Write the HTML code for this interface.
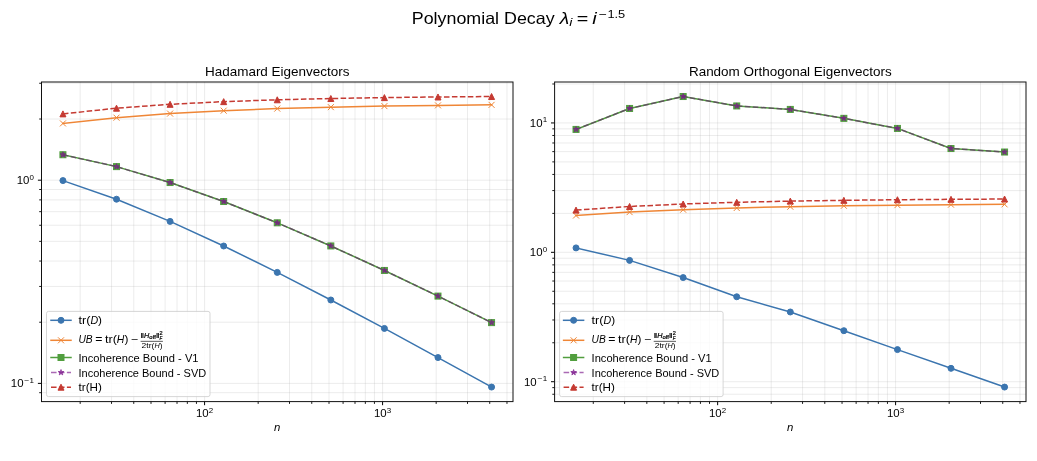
<!DOCTYPE html>
<html lang="en"><head><meta charset="utf-8"><title>Polynomial Decay</title>
<style>html,body{margin:0;padding:0;background:#fff;overflow:hidden}svg{display:block;will-change:transform}text{font-family:"Liberation Sans",sans-serif;white-space:pre}</style></head>
<body>
<svg width="1037" height="461" viewBox="0 0 1037 461" font-family="Liberation Sans, sans-serif">
<rect width="1037" height="461" fill="#fff"/>
<g id="ax0">
<clipPath id="clip0"><rect x="41.50" y="82.00" width="471.50" height="319.60"/></clipPath>
<path d="M204.59 82.00V401.60M382.58 82.00V401.60M80.18 82.00V401.60M111.52 82.00V401.60M133.76 82.00V401.60M151.01 82.00V401.60M165.10 82.00V401.60M177.02 82.00V401.60M187.34 82.00V401.60M196.44 82.00V401.60M258.17 82.00V401.60M289.51 82.00V401.60M311.75 82.00V401.60M329.00 82.00V401.60M343.09 82.00V401.60M355.01 82.00V401.60M365.33 82.00V401.60M374.43 82.00V401.60M436.16 82.00V401.60M467.50 82.00V401.60M489.73 82.00V401.60M506.98 82.00V401.60M41.50 383.38H513.00M41.50 180.20H513.00M41.50 392.68H513.00M41.50 322.22H513.00M41.50 286.44H513.00M41.50 261.05H513.00M41.50 241.36H513.00M41.50 225.27H513.00M41.50 211.67H513.00M41.50 199.89H513.00M41.50 189.50H513.00M41.50 119.03H513.00M41.50 83.26H513.00" fill="none" stroke="#b0b0b0" stroke-opacity="0.3" stroke-width="0.8"/>
<path d="M204.59 401.60v3.6M382.58 401.60v3.6M41.50 383.38h-3.6M41.50 180.20h-3.6" fill="none" stroke="#000" stroke-width="1"/>
<path d="M80.18 401.60v2.3M111.52 401.60v2.3M133.76 401.60v2.3M151.01 401.60v2.3M165.10 401.60v2.3M177.02 401.60v2.3M187.34 401.60v2.3M196.44 401.60v2.3M258.17 401.60v2.3M289.51 401.60v2.3M311.75 401.60v2.3M329.00 401.60v2.3M343.09 401.60v2.3M355.01 401.60v2.3M365.33 401.60v2.3M374.43 401.60v2.3M436.16 401.60v2.3M467.50 401.60v2.3M489.73 401.60v2.3M506.98 401.60v2.3M41.50 392.68h-2.3M41.50 322.22h-2.3M41.50 286.44h-2.3M41.50 261.05h-2.3M41.50 241.36h-2.3M41.50 225.27h-2.3M41.50 211.67h-2.3M41.50 199.89h-2.3M41.50 189.50h-2.3M41.50 119.03h-2.3M41.50 83.26h-2.3" fill="none" stroke="#000" stroke-width="0.9"/>
<g clip-path="url(#clip0)">
<path d="M62.93 180.59L116.51 199.21L170.09 221.38L223.67 246.00L277.25 272.38L330.83 299.99L384.41 328.43L437.99 357.55L491.57 387.07" fill="none" stroke="#3b75af" stroke-width="1.5" stroke-linejoin="round" stroke-linecap="square"/>
<circle cx="62.93" cy="180.59" r="3" fill="#3b75af" stroke="#3b75af" stroke-width="1"/>
<circle cx="116.51" cy="199.21" r="3" fill="#3b75af" stroke="#3b75af" stroke-width="1"/>
<circle cx="170.09" cy="221.38" r="3" fill="#3b75af" stroke="#3b75af" stroke-width="1"/>
<circle cx="223.67" cy="246.00" r="3" fill="#3b75af" stroke="#3b75af" stroke-width="1"/>
<circle cx="277.25" cy="272.38" r="3" fill="#3b75af" stroke="#3b75af" stroke-width="1"/>
<circle cx="330.83" cy="299.99" r="3" fill="#3b75af" stroke="#3b75af" stroke-width="1"/>
<circle cx="384.41" cy="328.43" r="3" fill="#3b75af" stroke="#3b75af" stroke-width="1"/>
<circle cx="437.99" cy="357.55" r="3" fill="#3b75af" stroke="#3b75af" stroke-width="1"/>
<circle cx="491.57" cy="387.07" r="3" fill="#3b75af" stroke="#3b75af" stroke-width="1"/>
<path d="M62.93 123.41L116.51 117.67L170.09 113.58L223.67 110.68L277.25 108.61L330.83 107.15L384.41 106.11L437.99 105.38L491.57 104.86" fill="none" stroke="#ef8636" stroke-width="1.5" stroke-linejoin="round" stroke-linecap="square"/>
<path d="M59.93 120.41L65.93 126.41M59.93 126.41L65.93 120.41" stroke="#ef8636" stroke-width="1" fill="none"/>
<path d="M113.51 114.67L119.51 120.67M113.51 120.67L119.51 114.67" stroke="#ef8636" stroke-width="1" fill="none"/>
<path d="M167.09 110.58L173.09 116.58M167.09 116.58L173.09 110.58" stroke="#ef8636" stroke-width="1" fill="none"/>
<path d="M220.67 107.68L226.67 113.68M220.67 113.68L226.67 107.68" stroke="#ef8636" stroke-width="1" fill="none"/>
<path d="M274.25 105.61L280.25 111.61M274.25 111.61L280.25 105.61" stroke="#ef8636" stroke-width="1" fill="none"/>
<path d="M327.83 104.15L333.83 110.15M327.83 110.15L333.83 104.15" stroke="#ef8636" stroke-width="1" fill="none"/>
<path d="M381.41 103.11L387.41 109.11M381.41 109.11L387.41 103.11" stroke="#ef8636" stroke-width="1" fill="none"/>
<path d="M434.99 102.38L440.99 108.38M434.99 108.38L440.99 102.38" stroke="#ef8636" stroke-width="1" fill="none"/>
<path d="M488.57 101.86L494.57 107.86M488.57 107.86L494.57 101.86" stroke="#ef8636" stroke-width="1" fill="none"/>
<path d="M62.93 154.74L116.51 166.62L170.09 182.54L223.67 201.52L277.25 222.82L330.83 245.94L384.41 270.45L437.99 296.09L491.57 322.61" fill="none" stroke="#519e3e" stroke-width="1.5" stroke-linejoin="round" stroke-linecap="square"/>
<rect x="59.93" y="151.74" width="6" height="6" fill="#519e3e" stroke="#519e3e" stroke-width="1"/>
<rect x="113.51" y="163.62" width="6" height="6" fill="#519e3e" stroke="#519e3e" stroke-width="1"/>
<rect x="167.09" y="179.54" width="6" height="6" fill="#519e3e" stroke="#519e3e" stroke-width="1"/>
<rect x="220.67" y="198.52" width="6" height="6" fill="#519e3e" stroke="#519e3e" stroke-width="1"/>
<rect x="274.25" y="219.82" width="6" height="6" fill="#519e3e" stroke="#519e3e" stroke-width="1"/>
<rect x="327.83" y="242.94" width="6" height="6" fill="#519e3e" stroke="#519e3e" stroke-width="1"/>
<rect x="381.41" y="267.45" width="6" height="6" fill="#519e3e" stroke="#519e3e" stroke-width="1"/>
<rect x="434.99" y="293.09" width="6" height="6" fill="#519e3e" stroke="#519e3e" stroke-width="1"/>
<rect x="488.57" y="319.61" width="6" height="6" fill="#519e3e" stroke="#519e3e" stroke-width="1"/>
<path d="M62.93 154.74L116.51 166.62L170.09 182.54L223.67 201.52L277.25 222.82L330.83 245.94L384.41 270.45L437.99 296.09L491.57 322.61" fill="none" stroke="#643269" stroke-width="1.5" stroke-linejoin="round" stroke-dasharray="5.55 2.4" stroke-linecap="butt" stroke-opacity="0.70"/>
<polygon points="62.93,151.74 62.26,153.82 60.08,153.82 61.84,155.10 61.17,157.17 62.93,155.89 64.70,157.17 64.02,155.10 65.78,153.82 63.61,153.82" fill="#7d198c" stroke="#7d198c" stroke-width="1" stroke-linejoin="bevel" fill-opacity="0.65" stroke-opacity="0.65"/>
<polygon points="116.51,163.62 115.84,165.69 113.66,165.69 115.42,166.97 114.75,169.04 116.51,167.76 118.27,169.04 117.60,166.97 119.36,165.69 117.18,165.69" fill="#7d198c" stroke="#7d198c" stroke-width="1" stroke-linejoin="bevel" fill-opacity="0.65" stroke-opacity="0.65"/>
<polygon points="170.09,179.54 169.42,181.61 167.24,181.61 169.00,182.89 168.33,184.97 170.09,183.69 171.85,184.97 171.18,182.89 172.94,181.61 170.76,181.61" fill="#7d198c" stroke="#7d198c" stroke-width="1" stroke-linejoin="bevel" fill-opacity="0.65" stroke-opacity="0.65"/>
<polygon points="223.67,198.52 223.00,200.60 220.82,200.60 222.58,201.88 221.91,203.95 223.67,202.67 225.43,203.95 224.76,201.88 226.52,200.60 224.34,200.60" fill="#7d198c" stroke="#7d198c" stroke-width="1" stroke-linejoin="bevel" fill-opacity="0.65" stroke-opacity="0.65"/>
<polygon points="277.25,219.82 276.58,221.90 274.40,221.90 276.16,223.18 275.49,225.25 277.25,223.97 279.01,225.25 278.34,223.18 280.10,221.90 277.92,221.90" fill="#7d198c" stroke="#7d198c" stroke-width="1" stroke-linejoin="bevel" fill-opacity="0.65" stroke-opacity="0.65"/>
<polygon points="330.83,242.94 330.16,245.02 327.98,245.02 329.74,246.30 329.07,248.37 330.83,247.09 332.59,248.37 331.92,246.30 333.68,245.02 331.50,245.02" fill="#7d198c" stroke="#7d198c" stroke-width="1" stroke-linejoin="bevel" fill-opacity="0.65" stroke-opacity="0.65"/>
<polygon points="384.41,267.45 383.74,269.52 381.56,269.52 383.32,270.80 382.65,272.87 384.41,271.59 386.17,272.87 385.50,270.80 387.26,269.52 385.08,269.52" fill="#7d198c" stroke="#7d198c" stroke-width="1" stroke-linejoin="bevel" fill-opacity="0.65" stroke-opacity="0.65"/>
<polygon points="437.99,293.09 437.32,295.17 435.14,295.17 436.90,296.45 436.23,298.52 437.99,297.24 439.75,298.52 439.08,296.45 440.84,295.17 438.66,295.17" fill="#7d198c" stroke="#7d198c" stroke-width="1" stroke-linejoin="bevel" fill-opacity="0.65" stroke-opacity="0.65"/>
<polygon points="491.57,319.61 490.89,321.69 488.72,321.69 490.48,322.97 489.80,325.04 491.57,323.76 493.33,325.04 492.66,322.97 494.42,321.69 492.24,321.69" fill="#7d198c" stroke="#7d198c" stroke-width="1" stroke-linejoin="bevel" fill-opacity="0.65" stroke-opacity="0.65"/>
<path d="M62.93 113.89L116.51 108.19L170.09 104.31L223.67 101.64L277.25 99.79L330.83 98.50L384.41 97.60L437.99 96.97L491.57 96.53" fill="none" stroke="#c53a32" stroke-width="1.5" stroke-linejoin="round" stroke-dasharray="5.55 2.4" stroke-linecap="butt"/>
<polygon points="62.93,110.89 59.93,116.89 65.93,116.89" fill="#c53a32" stroke="#c53a32" stroke-width="1" stroke-linejoin="miter"/>
<polygon points="116.51,105.19 113.51,111.19 119.51,111.19" fill="#c53a32" stroke="#c53a32" stroke-width="1" stroke-linejoin="miter"/>
<polygon points="170.09,101.31 167.09,107.31 173.09,107.31" fill="#c53a32" stroke="#c53a32" stroke-width="1" stroke-linejoin="miter"/>
<polygon points="223.67,98.64 220.67,104.64 226.67,104.64" fill="#c53a32" stroke="#c53a32" stroke-width="1" stroke-linejoin="miter"/>
<polygon points="277.25,96.79 274.25,102.79 280.25,102.79" fill="#c53a32" stroke="#c53a32" stroke-width="1" stroke-linejoin="miter"/>
<polygon points="330.83,95.50 327.83,101.50 333.83,101.50" fill="#c53a32" stroke="#c53a32" stroke-width="1" stroke-linejoin="miter"/>
<polygon points="384.41,94.60 381.41,100.60 387.41,100.60" fill="#c53a32" stroke="#c53a32" stroke-width="1" stroke-linejoin="miter"/>
<polygon points="437.99,93.97 434.99,99.97 440.99,99.97" fill="#c53a32" stroke="#c53a32" stroke-width="1" stroke-linejoin="miter"/>
<polygon points="491.57,93.53 488.57,99.53 494.57,99.53" fill="#c53a32" stroke="#c53a32" stroke-width="1" stroke-linejoin="miter"/>
</g>
<rect x="41.50" y="82.00" width="471.50" height="319.60" fill="none" stroke="#111" stroke-width="1"/>
<text x="195.95" y="417.20" font-size="10.30" textLength="12.72" lengthAdjust="spacingAndGlyphs" fill="#000">10</text>
<text x="208.77" y="412.57" font-size="7.21" textLength="4.45" lengthAdjust="spacingAndGlyphs" fill="#000">2</text>
<text x="373.94" y="417.20" font-size="10.30" textLength="12.72" lengthAdjust="spacingAndGlyphs" fill="#000">10</text>
<text x="386.76" y="412.57" font-size="7.21" textLength="4.45" lengthAdjust="spacingAndGlyphs" fill="#000">3</text>
<text x="10.86" y="387.38" font-size="10.30" textLength="12.72" lengthAdjust="spacingAndGlyphs" fill="#000">10</text>
<text x="24.09" y="382.85" font-size="7.21" textLength="5.04" lengthAdjust="spacingAndGlyphs" fill="#000">−</text>
<text x="29.55" y="382.85" font-size="7.21" textLength="4.45" lengthAdjust="spacingAndGlyphs" fill="#000">1</text>
<text x="16.73" y="184.20" font-size="10.30" textLength="12.72" lengthAdjust="spacingAndGlyphs" fill="#000">10</text>
<text x="29.55" y="179.67" font-size="7.21" textLength="4.45" lengthAdjust="spacingAndGlyphs" fill="#000">0</text>
<text x="204.95" y="76.00" font-size="12.36" textLength="144.59" lengthAdjust="spacingAndGlyphs" fill="#000">Hadamard Eigenvectors</text>
<text x="274.08" y="431.10" font-size="10.30" font-style="italic" textLength="6.34" lengthAdjust="spacingAndGlyphs" fill="#000">n</text>
<rect x="46.50" y="311.40" width="163.50" height="85.20" rx="2" ry="2" fill="#fff" fill-opacity="0.8" stroke="#ccc" stroke-opacity="0.8" stroke-width="1"/>
<path d="M51.00 320.30L71.00 320.30" fill="none" stroke="#3b75af" stroke-width="1.5" stroke-linejoin="round" stroke-linecap="square"/>
<circle cx="61.00" cy="320.30" r="3" fill="#3b75af" stroke="#3b75af" stroke-width="1"/>
<text x="78.50" y="323.70" font-size="10.30" textLength="11.93" lengthAdjust="spacingAndGlyphs" fill="#000">tr(</text>
<text x="90.43" y="323.70" font-size="10.30" font-style="italic" textLength="7.70" lengthAdjust="spacingAndGlyphs" fill="#000">D</text>
<text x="98.13" y="323.70" font-size="10.30" textLength="3.90" lengthAdjust="spacingAndGlyphs" fill="#000">)</text>
<path d="M51.00 340.30L71.00 340.30" fill="none" stroke="#ef8636" stroke-width="1.5" stroke-linejoin="round" stroke-linecap="square"/>
<path d="M58.00 337.30L64.00 343.30M58.00 343.30L64.00 337.30" stroke="#ef8636" stroke-width="1" fill="none"/>
<text x="78.50" y="343.40" font-size="10.30" font-style="italic" textLength="14.18" lengthAdjust="spacingAndGlyphs" fill="#000">UB</text>
<text x="95.21" y="343.40" font-size="10.30" textLength="7.21" lengthAdjust="spacingAndGlyphs" fill="#000">=</text>
<text x="104.96" y="343.40" font-size="10.30" textLength="11.93" lengthAdjust="spacingAndGlyphs" fill="#000">tr(</text>
<text x="116.89" y="343.40" font-size="10.30" font-style="italic" textLength="7.52" lengthAdjust="spacingAndGlyphs" fill="#000">H</text>
<text x="124.41" y="343.40" font-size="10.30" textLength="3.90" lengthAdjust="spacingAndGlyphs" fill="#000">)</text>
<text x="130.84" y="343.40" font-size="10.30" textLength="7.21" lengthAdjust="spacingAndGlyphs" fill="#000">−</text>
<path d="M51.00 357.50L71.00 357.50" fill="none" stroke="#519e3e" stroke-width="1.5" stroke-linejoin="round" stroke-linecap="square"/>
<rect x="58.00" y="354.50" width="6" height="6" fill="#519e3e" stroke="#519e3e" stroke-width="1"/>
<text x="78.50" y="361.50" font-size="10.30" textLength="120.00" lengthAdjust="spacingAndGlyphs" fill="#000">Incoherence Bound - V1</text>
<path d="M51.00 372.50L71.00 372.50" fill="none" stroke="#7d198c" stroke-width="1.5" stroke-linejoin="round" stroke-dasharray="5.55 2.4" stroke-linecap="butt" stroke-opacity="0.65"/>
<polygon points="61.00,369.50 60.33,371.57 58.15,371.57 59.91,372.85 59.24,374.93 61.00,373.65 62.76,374.93 62.09,372.85 63.85,371.57 61.67,371.57" fill="#7d198c" stroke="#7d198c" stroke-width="1" stroke-linejoin="bevel" fill-opacity="0.65" stroke-opacity="0.65"/>
<text x="78.50" y="376.50" font-size="10.30" textLength="127.68" lengthAdjust="spacingAndGlyphs" fill="#000">Incoherence Bound - SVD</text>
<path d="M51.00 387.20L71.00 387.20" fill="none" stroke="#c53a32" stroke-width="1.5" stroke-linejoin="round" stroke-dasharray="5.55 2.4" stroke-linecap="butt"/>
<polygon points="61.00,384.20 58.00,390.20 64.00,390.20" fill="#c53a32" stroke="#c53a32" stroke-width="1" stroke-linejoin="miter"/>
<text x="78.50" y="391.20" font-size="10.30" textLength="23.35" lengthAdjust="spacingAndGlyphs" fill="#000">tr(H)</text>
<g id="frac0">
<text x="140.60" y="338.10" font-size="7.21" stroke="#000" stroke-width="0.22" textLength="3.50" lengthAdjust="spacingAndGlyphs" fill="#000">‖</text>
<text x="144.10" y="338.10" font-size="7.21" font-style="italic" stroke="#000" stroke-width="0.22" textLength="5.26" lengthAdjust="spacingAndGlyphs" fill="#000">H</text>
<text x="149.36" y="339.25" font-size="5.05" stroke="#000" stroke-width="0.22" textLength="6.44" lengthAdjust="spacingAndGlyphs" fill="#000">off</text>
<text x="156.00" y="338.10" font-size="7.21" stroke="#000" stroke-width="0.22" textLength="3.50" lengthAdjust="spacingAndGlyphs" fill="#000">‖</text>
<text x="159.57" y="335.42" font-size="5.05" stroke="#000" stroke-width="0.22" textLength="3.10" lengthAdjust="spacingAndGlyphs" fill="#000">2</text>
<text x="159.57" y="340.01" font-size="5.05" font-style="italic" stroke="#000" stroke-width="0.22" textLength="2.80" lengthAdjust="spacingAndGlyphs" fill="#000">F</text>
<text x="141.60" y="347.60" font-size="7.21" textLength="12.81" lengthAdjust="spacingAndGlyphs" fill="#000">2tr(</text>
<text x="154.41" y="347.60" font-size="7.21" font-style="italic" textLength="5.26" lengthAdjust="spacingAndGlyphs" fill="#000">H</text>
<text x="159.67" y="347.60" font-size="7.21" textLength="2.73" lengthAdjust="spacingAndGlyphs" fill="#000">)</text>
<rect x="140.60" y="340.90" width="22.3" height="0.63" fill="#000"/>
</g>
</g>
<g id="ax1">
<clipPath id="clip1"><rect x="554.60" y="82.00" width="471.40" height="319.60"/></clipPath>
<path d="M717.65 82.00V401.60M895.60 82.00V401.60M593.27 82.00V401.60M624.61 82.00V401.60M646.84 82.00V401.60M664.09 82.00V401.60M678.18 82.00V401.60M690.09 82.00V401.60M700.41 82.00V401.60M709.51 82.00V401.60M771.22 82.00V401.60M802.56 82.00V401.60M824.79 82.00V401.60M842.04 82.00V401.60M856.13 82.00V401.60M868.04 82.00V401.60M878.36 82.00V401.60M887.46 82.00V401.60M949.17 82.00V401.60M980.51 82.00V401.60M1002.74 82.00V401.60M1019.98 82.00V401.60M554.60 381.71H1026.00M554.60 252.32H1026.00M554.60 122.94H1026.00M554.60 394.25H1026.00M554.60 387.63H1026.00M554.60 342.76H1026.00M554.60 319.98H1026.00M554.60 303.81H1026.00M554.60 291.27H1026.00M554.60 281.03H1026.00M554.60 272.37H1026.00M554.60 264.86H1026.00M554.60 258.24H1026.00M554.60 213.38H1026.00M554.60 190.59H1026.00M554.60 174.43H1026.00M554.60 161.89H1026.00M554.60 151.64H1026.00M554.60 142.98H1026.00M554.60 135.48H1026.00M554.60 128.86H1026.00M554.60 83.99H1026.00" fill="none" stroke="#b0b0b0" stroke-opacity="0.3" stroke-width="0.8"/>
<path d="M717.65 401.60v3.6M895.60 401.60v3.6M554.60 381.71h-3.6M554.60 252.32h-3.6M554.60 122.94h-3.6" fill="none" stroke="#000" stroke-width="1"/>
<path d="M593.27 401.60v2.3M624.61 401.60v2.3M646.84 401.60v2.3M664.09 401.60v2.3M678.18 401.60v2.3M690.09 401.60v2.3M700.41 401.60v2.3M709.51 401.60v2.3M771.22 401.60v2.3M802.56 401.60v2.3M824.79 401.60v2.3M842.04 401.60v2.3M856.13 401.60v2.3M868.04 401.60v2.3M878.36 401.60v2.3M887.46 401.60v2.3M949.17 401.60v2.3M980.51 401.60v2.3M1002.74 401.60v2.3M1019.98 401.60v2.3M554.60 394.25h-2.3M554.60 387.63h-2.3M554.60 342.76h-2.3M554.60 319.98h-2.3M554.60 303.81h-2.3M554.60 291.27h-2.3M554.60 281.03h-2.3M554.60 272.37h-2.3M554.60 264.86h-2.3M554.60 258.24h-2.3M554.60 213.38h-2.3M554.60 190.59h-2.3M554.60 174.43h-2.3M554.60 161.89h-2.3M554.60 151.64h-2.3M554.60 142.98h-2.3M554.60 135.48h-2.3M554.60 128.86h-2.3M554.60 83.99h-2.3" fill="none" stroke="#000" stroke-width="0.9"/>
<g clip-path="url(#clip1)">
<path d="M576.03 247.90L629.60 260.38L683.16 277.58L736.73 296.78L790.30 311.99L843.87 330.70L897.44 349.60L951.00 368.32L1004.57 387.07" fill="none" stroke="#3b75af" stroke-width="1.5" stroke-linejoin="round" stroke-linecap="square"/>
<circle cx="576.03" cy="247.90" r="3" fill="#3b75af" stroke="#3b75af" stroke-width="1"/>
<circle cx="629.60" cy="260.38" r="3" fill="#3b75af" stroke="#3b75af" stroke-width="1"/>
<circle cx="683.16" cy="277.58" r="3" fill="#3b75af" stroke="#3b75af" stroke-width="1"/>
<circle cx="736.73" cy="296.78" r="3" fill="#3b75af" stroke="#3b75af" stroke-width="1"/>
<circle cx="790.30" cy="311.99" r="3" fill="#3b75af" stroke="#3b75af" stroke-width="1"/>
<circle cx="843.87" cy="330.70" r="3" fill="#3b75af" stroke="#3b75af" stroke-width="1"/>
<circle cx="897.44" cy="349.60" r="3" fill="#3b75af" stroke="#3b75af" stroke-width="1"/>
<circle cx="951.00" cy="368.32" r="3" fill="#3b75af" stroke="#3b75af" stroke-width="1"/>
<circle cx="1004.57" cy="387.07" r="3" fill="#3b75af" stroke="#3b75af" stroke-width="1"/>
<path d="M576.03 215.52L629.60 212.12L683.16 209.70L736.73 207.97L790.30 206.69L843.87 205.78L897.44 205.13L951.00 204.67L1004.57 204.34" fill="none" stroke="#ef8636" stroke-width="1.5" stroke-linejoin="round" stroke-linecap="square"/>
<path d="M573.03 212.52L579.03 218.52M573.03 218.52L579.03 212.52" stroke="#ef8636" stroke-width="1" fill="none"/>
<path d="M626.60 209.12L632.60 215.12M626.60 215.12L632.60 209.12" stroke="#ef8636" stroke-width="1" fill="none"/>
<path d="M680.16 206.70L686.16 212.70M680.16 212.70L686.16 206.70" stroke="#ef8636" stroke-width="1" fill="none"/>
<path d="M733.73 204.97L739.73 210.97M733.73 210.97L739.73 204.97" stroke="#ef8636" stroke-width="1" fill="none"/>
<path d="M787.30 203.69L793.30 209.69M787.30 209.69L793.30 203.69" stroke="#ef8636" stroke-width="1" fill="none"/>
<path d="M840.87 202.78L846.87 208.78M840.87 208.78L846.87 202.78" stroke="#ef8636" stroke-width="1" fill="none"/>
<path d="M894.44 202.13L900.44 208.13M894.44 208.13L900.44 202.13" stroke="#ef8636" stroke-width="1" fill="none"/>
<path d="M948.00 201.67L954.00 207.67M948.00 207.67L954.00 201.67" stroke="#ef8636" stroke-width="1" fill="none"/>
<path d="M1001.57 201.34L1007.57 207.34M1001.57 207.34L1007.57 201.34" stroke="#ef8636" stroke-width="1" fill="none"/>
<path d="M576.03 129.42L629.60 108.45L683.16 96.53L736.73 105.95L790.30 109.42L843.87 118.35L897.44 128.42L951.00 148.54L1004.57 152.02" fill="none" stroke="#519e3e" stroke-width="1.5" stroke-linejoin="round" stroke-linecap="square"/>
<rect x="573.03" y="126.42" width="6" height="6" fill="#519e3e" stroke="#519e3e" stroke-width="1"/>
<rect x="626.60" y="105.45" width="6" height="6" fill="#519e3e" stroke="#519e3e" stroke-width="1"/>
<rect x="680.16" y="93.53" width="6" height="6" fill="#519e3e" stroke="#519e3e" stroke-width="1"/>
<rect x="733.73" y="102.95" width="6" height="6" fill="#519e3e" stroke="#519e3e" stroke-width="1"/>
<rect x="787.30" y="106.42" width="6" height="6" fill="#519e3e" stroke="#519e3e" stroke-width="1"/>
<rect x="840.87" y="115.35" width="6" height="6" fill="#519e3e" stroke="#519e3e" stroke-width="1"/>
<rect x="894.44" y="125.42" width="6" height="6" fill="#519e3e" stroke="#519e3e" stroke-width="1"/>
<rect x="948.00" y="145.54" width="6" height="6" fill="#519e3e" stroke="#519e3e" stroke-width="1"/>
<rect x="1001.57" y="149.02" width="6" height="6" fill="#519e3e" stroke="#519e3e" stroke-width="1"/>
<path d="M576.03 129.42L629.60 108.45L683.16 96.53L736.73 105.95L790.30 109.42L843.87 118.35L897.44 128.42L951.00 148.54L1004.57 152.02" fill="none" stroke="#643269" stroke-width="1.5" stroke-linejoin="round" stroke-dasharray="5.55 2.4" stroke-linecap="butt" stroke-opacity="0.70"/>
<polygon points="576.03,126.42 575.35,128.50 573.17,128.50 574.94,129.78 574.26,131.85 576.03,130.57 577.79,131.85 577.12,129.78 578.88,128.50 576.70,128.50" fill="#7d198c" stroke="#7d198c" stroke-width="1" stroke-linejoin="bevel" fill-opacity="0.65" stroke-opacity="0.65"/>
<polygon points="629.60,105.45 628.92,107.53 626.74,107.53 628.51,108.81 627.83,110.88 629.60,109.60 631.36,110.88 630.69,108.81 632.45,107.53 630.27,107.53" fill="#7d198c" stroke="#7d198c" stroke-width="1" stroke-linejoin="bevel" fill-opacity="0.65" stroke-opacity="0.65"/>
<polygon points="683.16,93.53 682.49,95.60 680.31,95.60 682.07,96.88 681.40,98.95 683.16,97.67 684.93,98.95 684.25,96.88 686.02,95.60 683.84,95.60" fill="#7d198c" stroke="#7d198c" stroke-width="1" stroke-linejoin="bevel" fill-opacity="0.65" stroke-opacity="0.65"/>
<polygon points="736.73,102.95 736.06,105.02 733.88,105.02 735.64,106.30 734.97,108.38 736.73,107.10 738.50,108.38 737.82,106.30 739.58,105.02 737.41,105.02" fill="#7d198c" stroke="#7d198c" stroke-width="1" stroke-linejoin="bevel" fill-opacity="0.65" stroke-opacity="0.65"/>
<polygon points="790.30,106.42 789.63,108.49 787.45,108.49 789.21,109.77 788.54,111.85 790.30,110.56 792.06,111.85 791.39,109.77 793.15,108.49 790.97,108.49" fill="#7d198c" stroke="#7d198c" stroke-width="1" stroke-linejoin="bevel" fill-opacity="0.65" stroke-opacity="0.65"/>
<polygon points="843.87,115.35 843.19,117.43 841.02,117.43 842.78,118.71 842.10,120.78 843.87,119.50 845.63,120.78 844.96,118.71 846.72,117.43 844.54,117.43" fill="#7d198c" stroke="#7d198c" stroke-width="1" stroke-linejoin="bevel" fill-opacity="0.65" stroke-opacity="0.65"/>
<polygon points="897.44,125.42 896.76,127.50 894.58,127.50 896.35,128.78 895.67,130.85 897.44,129.57 899.20,130.85 898.53,128.78 900.29,127.50 898.11,127.50" fill="#7d198c" stroke="#7d198c" stroke-width="1" stroke-linejoin="bevel" fill-opacity="0.65" stroke-opacity="0.65"/>
<polygon points="951.00,145.54 950.33,147.62 948.15,147.62 949.91,148.90 949.24,150.97 951.00,149.69 952.77,150.97 952.09,148.90 953.86,147.62 951.68,147.62" fill="#7d198c" stroke="#7d198c" stroke-width="1" stroke-linejoin="bevel" fill-opacity="0.65" stroke-opacity="0.65"/>
<polygon points="1004.57,149.02 1003.90,151.09 1001.72,151.09 1003.48,152.37 1002.81,154.44 1004.57,153.16 1006.34,154.44 1005.66,152.37 1007.43,151.09 1005.25,151.09" fill="#7d198c" stroke="#7d198c" stroke-width="1" stroke-linejoin="bevel" fill-opacity="0.65" stroke-opacity="0.65"/>
<path d="M576.03 210.10L629.60 206.47L683.16 204.00L736.73 202.30L790.30 201.12L843.87 200.30L897.44 199.73L951.00 199.32L1004.57 199.04" fill="none" stroke="#c53a32" stroke-width="1.5" stroke-linejoin="round" stroke-dasharray="5.55 2.4" stroke-linecap="butt"/>
<polygon points="576.03,207.10 573.03,213.10 579.03,213.10" fill="#c53a32" stroke="#c53a32" stroke-width="1" stroke-linejoin="miter"/>
<polygon points="629.60,203.47 626.60,209.47 632.60,209.47" fill="#c53a32" stroke="#c53a32" stroke-width="1" stroke-linejoin="miter"/>
<polygon points="683.16,201.00 680.16,207.00 686.16,207.00" fill="#c53a32" stroke="#c53a32" stroke-width="1" stroke-linejoin="miter"/>
<polygon points="736.73,199.30 733.73,205.30 739.73,205.30" fill="#c53a32" stroke="#c53a32" stroke-width="1" stroke-linejoin="miter"/>
<polygon points="790.30,198.12 787.30,204.12 793.30,204.12" fill="#c53a32" stroke="#c53a32" stroke-width="1" stroke-linejoin="miter"/>
<polygon points="843.87,197.30 840.87,203.30 846.87,203.30" fill="#c53a32" stroke="#c53a32" stroke-width="1" stroke-linejoin="miter"/>
<polygon points="897.44,196.73 894.44,202.73 900.44,202.73" fill="#c53a32" stroke="#c53a32" stroke-width="1" stroke-linejoin="miter"/>
<polygon points="951.00,196.32 948.00,202.32 954.00,202.32" fill="#c53a32" stroke="#c53a32" stroke-width="1" stroke-linejoin="miter"/>
<polygon points="1004.57,196.04 1001.57,202.04 1007.57,202.04" fill="#c53a32" stroke="#c53a32" stroke-width="1" stroke-linejoin="miter"/>
</g>
<rect x="554.60" y="82.00" width="471.40" height="319.60" fill="none" stroke="#111" stroke-width="1"/>
<text x="709.02" y="417.20" font-size="10.30" textLength="12.72" lengthAdjust="spacingAndGlyphs" fill="#000">10</text>
<text x="721.84" y="412.57" font-size="7.21" textLength="4.45" lengthAdjust="spacingAndGlyphs" fill="#000">2</text>
<text x="886.97" y="417.20" font-size="10.30" textLength="12.72" lengthAdjust="spacingAndGlyphs" fill="#000">10</text>
<text x="899.79" y="412.57" font-size="7.21" textLength="4.45" lengthAdjust="spacingAndGlyphs" fill="#000">3</text>
<text x="523.96" y="385.71" font-size="10.30" textLength="12.72" lengthAdjust="spacingAndGlyphs" fill="#000">10</text>
<text x="537.19" y="381.18" font-size="7.21" textLength="5.04" lengthAdjust="spacingAndGlyphs" fill="#000">−</text>
<text x="542.65" y="381.18" font-size="7.21" textLength="4.45" lengthAdjust="spacingAndGlyphs" fill="#000">1</text>
<text x="529.83" y="256.32" font-size="10.30" textLength="12.72" lengthAdjust="spacingAndGlyphs" fill="#000">10</text>
<text x="542.65" y="251.80" font-size="7.21" textLength="4.45" lengthAdjust="spacingAndGlyphs" fill="#000">0</text>
<text x="529.83" y="126.94" font-size="10.30" textLength="12.72" lengthAdjust="spacingAndGlyphs" fill="#000">10</text>
<text x="542.65" y="122.41" font-size="7.21" textLength="4.45" lengthAdjust="spacingAndGlyphs" fill="#000">1</text>
<text x="688.95" y="76.00" font-size="12.36" textLength="202.69" lengthAdjust="spacingAndGlyphs" fill="#000">Random Orthogonal Eigenvectors</text>
<text x="787.13" y="431.10" font-size="10.30" font-style="italic" textLength="6.34" lengthAdjust="spacingAndGlyphs" fill="#000">n</text>
<rect x="559.60" y="311.40" width="163.50" height="85.20" rx="2" ry="2" fill="#fff" fill-opacity="0.8" stroke="#ccc" stroke-opacity="0.8" stroke-width="1"/>
<path d="M563.60 320.30L583.60 320.30" fill="none" stroke="#3b75af" stroke-width="1.5" stroke-linejoin="round" stroke-linecap="square"/>
<circle cx="573.60" cy="320.30" r="3" fill="#3b75af" stroke="#3b75af" stroke-width="1"/>
<text x="591.60" y="323.70" font-size="10.30" textLength="11.93" lengthAdjust="spacingAndGlyphs" fill="#000">tr(</text>
<text x="603.53" y="323.70" font-size="10.30" font-style="italic" textLength="7.70" lengthAdjust="spacingAndGlyphs" fill="#000">D</text>
<text x="611.23" y="323.70" font-size="10.30" textLength="3.90" lengthAdjust="spacingAndGlyphs" fill="#000">)</text>
<path d="M563.60 340.30L583.60 340.30" fill="none" stroke="#ef8636" stroke-width="1.5" stroke-linejoin="round" stroke-linecap="square"/>
<path d="M570.60 337.30L576.60 343.30M570.60 343.30L576.60 337.30" stroke="#ef8636" stroke-width="1" fill="none"/>
<text x="591.60" y="343.40" font-size="10.30" font-style="italic" textLength="14.18" lengthAdjust="spacingAndGlyphs" fill="#000">UB</text>
<text x="608.31" y="343.40" font-size="10.30" textLength="7.21" lengthAdjust="spacingAndGlyphs" fill="#000">=</text>
<text x="618.06" y="343.40" font-size="10.30" textLength="11.93" lengthAdjust="spacingAndGlyphs" fill="#000">tr(</text>
<text x="629.99" y="343.40" font-size="10.30" font-style="italic" textLength="7.52" lengthAdjust="spacingAndGlyphs" fill="#000">H</text>
<text x="637.51" y="343.40" font-size="10.30" textLength="3.90" lengthAdjust="spacingAndGlyphs" fill="#000">)</text>
<text x="643.94" y="343.40" font-size="10.30" textLength="7.21" lengthAdjust="spacingAndGlyphs" fill="#000">−</text>
<path d="M563.60 357.50L583.60 357.50" fill="none" stroke="#519e3e" stroke-width="1.5" stroke-linejoin="round" stroke-linecap="square"/>
<rect x="570.60" y="354.50" width="6" height="6" fill="#519e3e" stroke="#519e3e" stroke-width="1"/>
<text x="591.60" y="361.50" font-size="10.30" textLength="120.00" lengthAdjust="spacingAndGlyphs" fill="#000">Incoherence Bound - V1</text>
<path d="M563.60 372.50L583.60 372.50" fill="none" stroke="#7d198c" stroke-width="1.5" stroke-linejoin="round" stroke-dasharray="5.55 2.4" stroke-linecap="butt" stroke-opacity="0.65"/>
<polygon points="573.60,369.50 572.93,371.57 570.75,371.57 572.51,372.85 571.84,374.93 573.60,373.65 575.36,374.93 574.69,372.85 576.45,371.57 574.27,371.57" fill="#7d198c" stroke="#7d198c" stroke-width="1" stroke-linejoin="bevel" fill-opacity="0.65" stroke-opacity="0.65"/>
<text x="591.60" y="376.50" font-size="10.30" textLength="127.68" lengthAdjust="spacingAndGlyphs" fill="#000">Incoherence Bound - SVD</text>
<path d="M563.60 387.20L583.60 387.20" fill="none" stroke="#c53a32" stroke-width="1.5" stroke-linejoin="round" stroke-dasharray="5.55 2.4" stroke-linecap="butt"/>
<polygon points="573.60,384.20 570.60,390.20 576.60,390.20" fill="#c53a32" stroke="#c53a32" stroke-width="1" stroke-linejoin="miter"/>
<text x="591.60" y="391.20" font-size="10.30" textLength="23.35" lengthAdjust="spacingAndGlyphs" fill="#000">tr(H)</text>
<g id="frac1">
<text x="653.70" y="338.10" font-size="7.21" stroke="#000" stroke-width="0.22" textLength="3.50" lengthAdjust="spacingAndGlyphs" fill="#000">‖</text>
<text x="657.20" y="338.10" font-size="7.21" font-style="italic" stroke="#000" stroke-width="0.22" textLength="5.26" lengthAdjust="spacingAndGlyphs" fill="#000">H</text>
<text x="662.46" y="339.25" font-size="5.05" stroke="#000" stroke-width="0.22" textLength="6.44" lengthAdjust="spacingAndGlyphs" fill="#000">off</text>
<text x="669.10" y="338.10" font-size="7.21" stroke="#000" stroke-width="0.22" textLength="3.50" lengthAdjust="spacingAndGlyphs" fill="#000">‖</text>
<text x="672.67" y="335.42" font-size="5.05" stroke="#000" stroke-width="0.22" textLength="3.10" lengthAdjust="spacingAndGlyphs" fill="#000">2</text>
<text x="672.67" y="340.01" font-size="5.05" font-style="italic" stroke="#000" stroke-width="0.22" textLength="2.80" lengthAdjust="spacingAndGlyphs" fill="#000">F</text>
<text x="654.70" y="347.60" font-size="7.21" textLength="12.81" lengthAdjust="spacingAndGlyphs" fill="#000">2tr(</text>
<text x="667.51" y="347.60" font-size="7.21" font-style="italic" textLength="5.26" lengthAdjust="spacingAndGlyphs" fill="#000">H</text>
<text x="672.77" y="347.60" font-size="7.21" textLength="2.73" lengthAdjust="spacingAndGlyphs" fill="#000">)</text>
<rect x="653.70" y="340.90" width="22.3" height="0.63" fill="#000"/>
</g>
</g>
<text x="411.75" y="23.80" font-size="16.48" textLength="142.88" lengthAdjust="spacingAndGlyphs" fill="#000">Polynomial Decay</text>
<text x="559.72" y="23.80" font-size="16.48" font-style="italic" textLength="9.47" lengthAdjust="spacingAndGlyphs" fill="#000">λ</text>
<text x="569.19" y="26.43" font-size="11.54" font-style="italic" textLength="3.13" lengthAdjust="spacingAndGlyphs" fill="#000">i</text>
<text x="576.80" y="23.80" font-size="16.48" textLength="11.53" lengthAdjust="spacingAndGlyphs" fill="#000">=</text>
<text x="592.38" y="23.80" font-size="16.48" font-style="italic" textLength="4.45" lengthAdjust="spacingAndGlyphs" fill="#000">i</text>
<text x="598.68" y="17.68" font-size="11.54" textLength="8.11" lengthAdjust="spacingAndGlyphs" fill="#000">−</text>
<text x="607.40" y="17.68" font-size="11.54" textLength="17.84" lengthAdjust="spacingAndGlyphs" fill="#000">1.5</text>
</svg>
</body></html>
